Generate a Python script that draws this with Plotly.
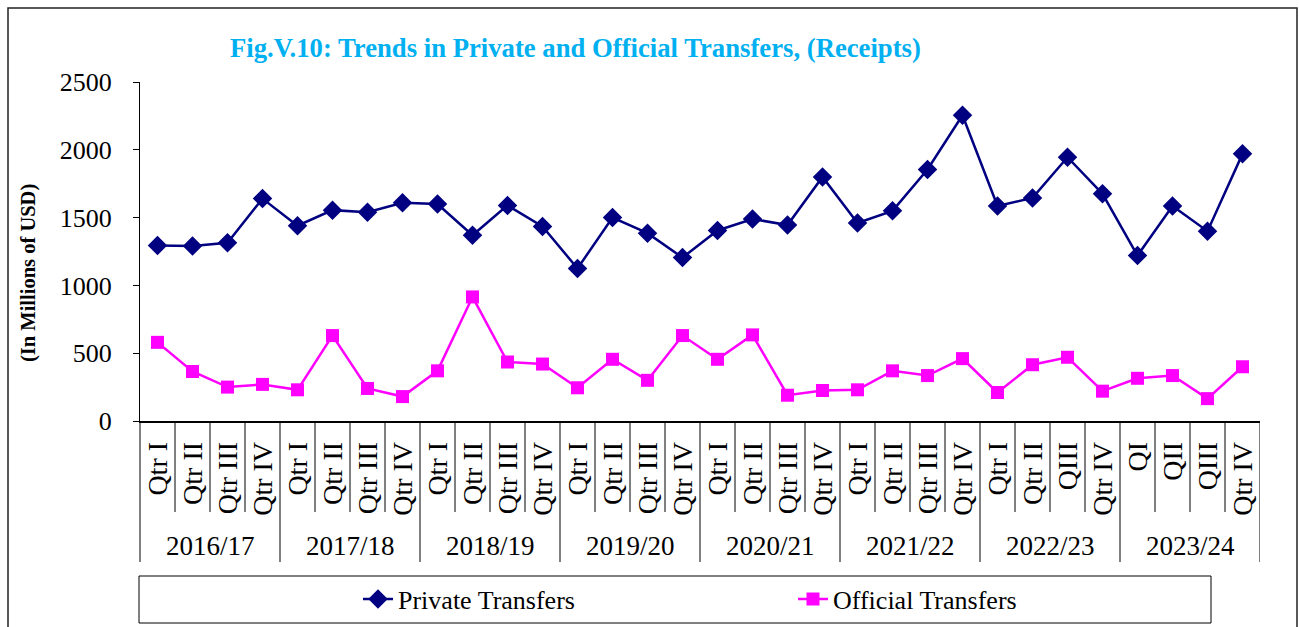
import plotly.graph_objects as go

years = ["2016/17", "2017/18", "2018/19", "2019/20", "2020/21", "2021/22", "2022/23", "2023/24"]
quarters = [
    ["Qtr I", "Qtr II", "Qtr III", "Qtr IV"],
    ["Qtr I", "Qtr II", "Qtr III", "Qtr IV"],
    ["Qtr I", "Qtr II", "Qtr III", "Qtr IV"],
    ["Qtr I", "Qtr II", "Qtr III", "Qtr IV"],
    ["Qtr I", "Qtr II", "Qtr III", "Qtr IV"],
    ["Qtr I", "Qtr II", "Qtr III", "Qtr IV"],
    ["Qtr I", "Qtr II", "QIII", "Qtr IV"],
    ["QI", "QII", "QIII", "Qtr IV"],
]
private_transfers = [1295, 1290, 1315, 1640, 1440, 1555, 1540, 1610,
                     1600, 1370, 1590, 1435, 1125, 1500, 1385, 1205,
                     1405, 1490, 1445, 1800, 1460, 1550, 1855, 2255,
                     1585, 1645, 1945, 1675, 1220, 1585, 1400, 1970]
official_transfers = [580, 365, 250, 270, 230, 630, 240, 180,
                      370, 915, 435, 420, 245, 455, 300, 630,
                      455, 635, 190, 225, 230, 370, 335, 460,
                      210, 415, 470, 220, 315, 335, 165, 400]

FONT = "Liberation Serif"
W, H = 1299, 627
L, R, T, B = 140, 1260, 82, 421  # plot area pixels


def px_x(p):
    return (p - L) / (R - L)


def px_y(p):
    return (B - p) / (B - T)


tick_text = [q for grp in quarters for q in grp]
xs = list(range(len(tick_text)))

fig = go.Figure()
fig.add_trace(go.Scatter(
    x=xs, y=private_transfers, name="Private Transfers", mode="lines+markers",
    line=dict(color="#000080", width=2.5),
    marker=dict(symbol="diamond", size=15, color="#000080"),
))
fig.add_trace(go.Scatter(
    x=xs, y=official_transfers, name="Official Transfers", mode="lines+markers",
    line=dict(color="#FF00FF", width=2.5),
    marker=dict(symbol="square", size=13, color="#FF00FF"),
))

shapes = []
n = len(tick_text)
for k in range(1, n + 1):
    is_year = (k % 4 == 0)
    shapes.append(dict(type="line", xref="x", yref="paper",
                       x0=k - 0.5, x1=k - 0.5, y0=0,
                       y1=px_y(562 if is_year else 512),
                       line=dict(color="black", width=1)))
shapes.append(dict(type="line", xref="paper", yref="paper", x0=0, x1=0,
                   y0=0, y1=px_y(562), line=dict(color="black", width=1)))
shapes.append(dict(type="rect", xref="paper", yref="paper",
                   x0=px_x(139), x1=px_x(1211), y0=px_y(576), y1=px_y(623),
                   line=dict(color="black", width=1)))
shapes.append(dict(type="rect", xref="paper", yref="paper",
                   x0=px_x(8), x1=px_x(1297), y0=px_y(8), y1=px_y(660),
                   line=dict(color="#222222", width=1.5)))

annotations = []
for g, yr in enumerate(years):
    annotations.append(dict(x=4 * g + 1.5, y=px_y(546), xref="x", yref="paper",
                            text=yr, showarrow=False,
                            font=dict(family=FONT, size=27, color="black"),
                            xanchor="center", yanchor="middle"))
annotations.append(dict(x=px_x(575), y=px_y(48), xref="paper", yref="paper",
                        text="<b>Fig.V.10: Trends in Private and Official Transfers, (Receipts)</b>",
                        showarrow=False, xanchor="center", yanchor="middle",
                        font=dict(family=FONT, size=26.7, color="#00B0F0")))
annotations.append(dict(x=px_x(28), y=px_y(273), xref="paper", yref="paper",
                        text="<b>(In Millions of USD)</b>", textangle=-90,
                        showarrow=False, xanchor="center", yanchor="middle",
                        font=dict(family=FONT, size=20.5, color="black")))

fig.update_layout(
    width=W, height=H,
    margin=dict(l=L, r=W - R, t=T, b=H - B, autoexpand=False),
    paper_bgcolor="white", plot_bgcolor="white",
    font=dict(family=FONT, color="black"),
    showlegend=True,
    legend=dict(orientation="h", x=px_x(358), y=px_y(599), xanchor="left", yanchor="middle",
                entrywidth=390, entrywidthmode="pixels",
                font=dict(family=FONT, size=26, color="black"),
                bgcolor="rgba(0,0,0,0)", borderwidth=0),
    xaxis=dict(range=[-0.5, n - 0.5], tickmode="array", tickvals=xs, ticktext=tick_text,
               tickangle=-90, ticks="", showgrid=False, zeroline=False, automargin=False,
               showline=True, linecolor="black", linewidth=1.5,
               tickfont=dict(family=FONT, size=28, color="black"),
               ticklabelstandoff=8),
    yaxis=dict(range=[0, 2500], dtick=500, tick0=0, ticks="outside", ticklen=6,
               tickcolor="black", showgrid=False, zeroline=False, automargin=False,
               showline=True, linecolor="black", linewidth=1,
               tickfont=dict(family=FONT, size=26, color="black"),
               ticklabelstandoff=16),
    shapes=shapes, annotations=annotations,
)

fig.write_html("out.html", config={"displayModeBar": False},
               post_script="document.body.style.margin='0';document.body.style.overflow='hidden';")
